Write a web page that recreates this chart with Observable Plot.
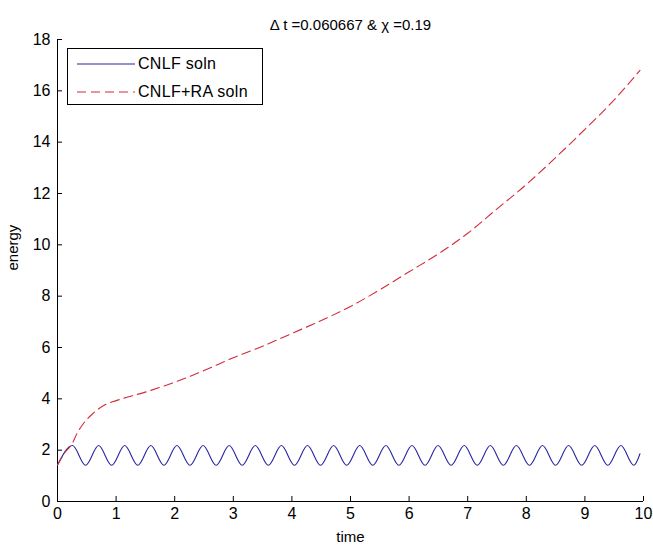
<!DOCTYPE html>
<html><head><meta charset="utf-8">
<script src="https://cdn.jsdelivr.net/npm/d3@7"></script>
<script src="https://cdn.jsdelivr.net/npm/@observablehq/plot@0.6"></script>
<style>
body{margin:0;background:#fff;font-family:"Liberation Sans",Arial,sans-serif;}
#wrap{position:relative;width:653px;height:550px;}
#legend{position:absolute;left:67px;top:48px;width:196px;height:57px;border:1px solid #000;background:#fff;box-sizing:border-box;font-size:16px;letter-spacing:0.3px;color:#000;}
#legend .row{position:absolute;left:0;height:20px;display:flex;align-items:center;}
#legend svg{margin-left:9px;margin-right:3px;}
</style></head><body><div id="wrap"></div>
<script>
const titleText = "\u0394 t =0.060667 & \u03C7 =0.19";
const xLabel = "time";
const yLabel = "energy";
const seriesNames = ["CNLF soln", "CNLF+RA soln"];
const seriesColors = ["#2626a0", "#d42a3c"];

const blueT = [0, 0.256, 0.479, 0.702, 0.924, 1.147, 1.370, 1.593, 1.816, 2.038, 2.261, 2.484, 2.707, 2.930, 3.152, 3.375, 3.598, 3.821, 4.044, 4.266, 4.489, 4.712, 4.935, 5.158, 5.380, 5.603, 5.826, 6.049, 6.272, 6.494, 6.717, 6.940, 7.163, 7.386, 7.608, 7.831, 8.054, 8.277, 8.500, 8.722, 8.945, 9.168, 9.391, 9.614, 9.836, 9.94];
const blueE = [1.42, 2.18, 1.41, 2.18, 1.41, 2.18, 1.41, 2.18, 1.41, 2.18, 1.41, 2.18, 1.41, 2.18, 1.41, 2.18, 1.41, 2.18, 1.41, 2.18, 1.41, 2.18, 1.41, 2.18, 1.41, 2.18, 1.41, 2.18, 1.41, 2.18, 1.41, 2.18, 1.41, 2.18, 1.41, 2.18, 1.41, 2.18, 1.41, 2.18, 1.41, 2.18, 1.41, 2.18, 1.41, 1.86];

const redT = [0, 0.13, 0.25, 0.33, 0.44, 0.6, 0.84, 1.0, 1.58, 2.0, 2.5, 3.0, 3.5, 4.0, 4.5, 5.0, 5.5, 6.0, 6.5, 7.0, 7.5, 8.0, 8.5, 9.0, 9.5, 9.94];
const redE = [1.42, 1.92, 2.25, 2.64, 3.03, 3.42, 3.8, 3.93, 4.32, 4.65, 5.1, 5.6, 6.05, 6.55, 7.05, 7.6, 8.25, 8.95, 9.65, 10.45, 11.4, 12.35, 13.4, 14.5, 15.65, 16.8];

const xTicks = [0, 1, 2, 3, 4, 5, 6, 7, 8, 9, 10];
const yTicks = [0, 2, 4, 6, 8, 10, 12, 14, 16, 18];

const blue = blueT.map((t, i) => ({t, e: blueE[i]}));
const red = redT.map((t, i) => ({t, e: redE[i]}));

const W = 653, H = 550, ML = 57, MR = 10, MT = 39, MB = 49;
const fw = W - ML - MR, fh = H - MT - MB;

const chart = Plot.plot({
  width: W, height: H,
  marginLeft: ML, marginRight: MR, marginTop: MT, marginBottom: MB,
  x: {domain: [0, 10]},
  y: {domain: [0, 18]},
  style: {fontFamily: "'Liberation Sans', Arial, sans-serif", fontSize: "16px", color: "#000", background: "#fff"},
  marks: [
    Plot.axisX(xTicks, {tickSize: 0, tickPadding: 6, label: null, fontSize: 16}),
    Plot.axisY(yTicks, {tickSize: 0, tickPadding: 7, label: null, fontSize: 16}),
    Plot.tickX(xTicks, {x: d => d, insetTop: fh - 5, stroke: "#000"}),
    Plot.tickY(yTicks, {y: d => d, insetRight: fw - 5, stroke: "#000"}),
    Plot.ruleX([0], {stroke: "#000"}),
    Plot.ruleY([0], {stroke: "#000"}),
    Plot.line(blue, {x: "t", y: "e", stroke: seriesColors[0], strokeWidth: 1.1, curve: "monotone-x"}),
    Plot.line(red, {x: "t", y: "e", stroke: seriesColors[1], strokeWidth: 1.1, curve: "monotone-x", strokeDasharray: "9,5"}),
    Plot.text([titleText], {text: d => d, frameAnchor: "top", dy: -20, fontSize: 15}),
    Plot.text([xLabel], {text: d => d, frameAnchor: "bottom", dy: 40, fontSize: 15}),
    Plot.text([yLabel], {text: d => d, frameAnchor: "left", dx: -44, rotate: -90, fontSize: 15})
  ]
});
const wrap = document.getElementById("wrap");
wrap.appendChild(chart);

const legend = document.createElement("div");
legend.id = "legend";
seriesNames.forEach((name, i) => {
  const row = document.createElement("div");
  row.className = "row";
  row.style.top = (i === 0 ? 5 : 33) + "px";
  row.innerHTML = `<svg width="58" height="4"><line x1="0" y1="2" x2="58" y2="2" stroke="${seriesColors[i]}" stroke-width="1.1" ${i === 1 ? 'stroke-dasharray="9,5"' : ''}/></svg><span>${name}</span>`;
  legend.appendChild(row);
});
wrap.appendChild(legend);
</script>
</body></html>
